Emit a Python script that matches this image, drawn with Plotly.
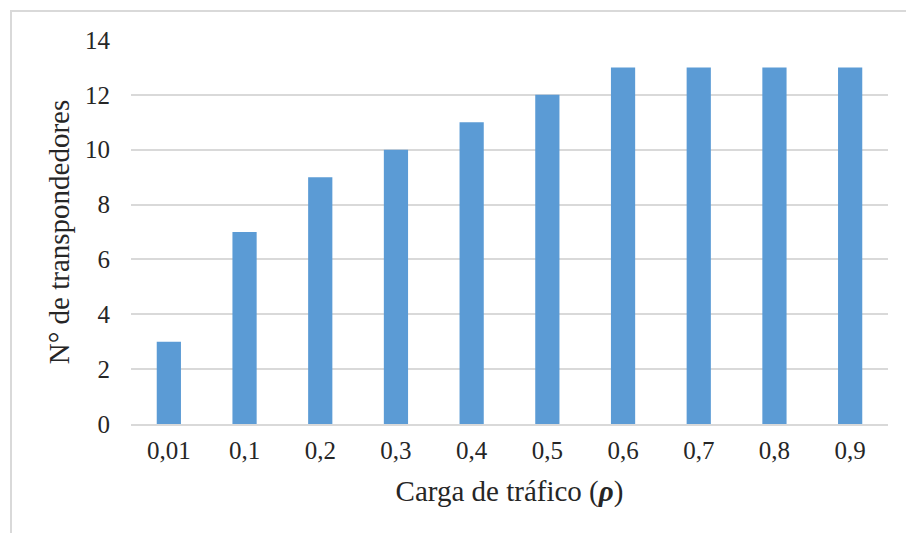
import plotly.graph_objects as go

# Traffic load categories and number of transponders required
cargas = ["0,01", "0,1", "0,2", "0,3", "0,4", "0,5", "0,6", "0,7", "0,8", "0,9"]
transpondedores = [3, 7, 9, 10, 11, 12, 13, 13, 13, 13]
y_ticks = [0, 2, 4, 6, 8, 10, 12, 14]

FONT = "Liberation Serif"
TEXT = "#262626"
GRID = "#D9D9D9"

fig = go.Figure(
    go.Bar(
        x=cargas,
        y=transpondedores,
        marker=dict(color="#5B9BD5", line=dict(width=0)),
    )
)

fig.update_layout(
    width=906,
    height=533,
    margin=dict(l=131, r=18, t=40, b=109),
    paper_bgcolor="white",
    plot_bgcolor="white",
    bargap=0.68,
    showlegend=False,
    font=dict(family=FONT, size=24, color=TEXT),
    xaxis=dict(
        type="category",
        showgrid=False,
        showline=True,
        linecolor=GRID,
        linewidth=2,
        ticks="",
        ticklabelstandoff=3,
        tickfont=dict(family=FONT, size=25, color=TEXT),
        title=dict(
            text="Carga de tráfico (<b><i>ρ</i></b>)",
            font=dict(family=FONT, size=29, color=TEXT),
            standoff=18,
        ),
    ),
    yaxis=dict(
        range=[0, 14],
        tickvals=y_ticks,
        showgrid=True,
        gridcolor=GRID,
        gridwidth=2,
        zeroline=False,
        showline=False,
        ticks="",
        ticklabelstandoff=20,
        tickfont=dict(family=FONT, size=25, color=TEXT),
        title=dict(
            text="N° de transpondedores",
            font=dict(family=FONT, size=29, color=TEXT),
            standoff=6,
        ),
    ),
    shapes=[
        dict(
            type="rect",
            xref="paper",
            yref="paper",
            x0=(11 - 131) / 757,
            x1=(920 - 131) / 757,
            y0=-(560 - 424) / 384,
            y1=1 + (40 - 11) / 384,
            line=dict(color=GRID, width=2),
            layer="below",
        )
    ],
)

fig.write_html("out.html")
